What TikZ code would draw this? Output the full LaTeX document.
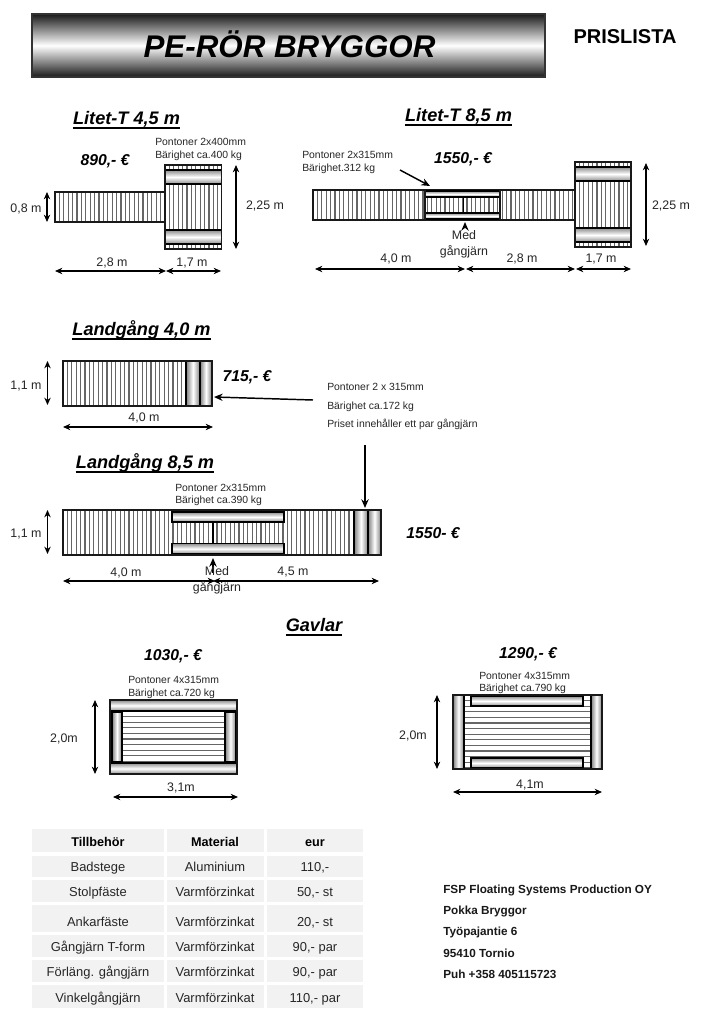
\documentclass[tikz,border=0pt]{standalone}
\usepackage{fontspec}
\setmainfont{Liberation Sans}
\usetikzlibrary{arrows.meta}
\tikzset{
  txt/.style={inner sep=0pt,text depth=0pt},
  small/.style={txt,font=\fontsize{7.8pt}{9pt}\selectfont,text height=5.6pt,anchor=west,text=black!85},
  dimtxt/.style={txt,font=\fontsize{9.3pt}{11pt}\selectfont,text height=6.7pt,text=black!85},
  price/.style={txt,font=\bfseries\itshape\fontsize{11.8pt}{14pt}\selectfont,text height=8.5pt},
  sect/.style={txt,font=\bfseries\itshape\fontsize{13.6pt}{16pt}\selectfont,text height=9.8pt},
  cellt/.style={txt,font=\fontsize{9.7pt}{11pt}\selectfont,text height=7pt,text=black!85},
  headt/.style={txt,font=\bfseries\fontsize{9.5pt}{11pt}\selectfont,text height=6.9pt},
  addr/.style={txt,font=\bfseries\fontsize{8.8pt}{10pt}\selectfont,text height=6.3pt,anchor=west,text=black!90},
  cellbg/.style={fill=black!5},
  slat/.style={line width=.85pt,draw=black!60},
  border/.style={line width=1pt,draw=black!90},
  hpont/.style={line width=1pt,draw=black,top color=black!45,bottom color=black!45,middle color=white},
  vpont/.style={line width=1pt,draw=black,left color=black!50,right color=black!50,middle color=white},
  dim/.style={line width=1.05pt,{Stealth[length=5.5pt,width=4.8pt]}-{Stealth[length=5.5pt,width=4.8pt]}},
  pointer/.style={line width=1.1pt,-{Stealth[length=6.5pt,width=5.5pt]}},
}
\newcommand\vdeck[5]{%
  \pgfmathsetmacro\xa{#1+#5}\pgfmathsetmacro\xb{#1+2*#5}%
  \foreach \xx in {\xa,\xb,...,#3}{\draw[slat] (\xx,#2) -- (\xx,#4);}%
  \draw[border] (#1,#2) rectangle (#3,#4);}
\newcommand\hdeck[5]{%
  \pgfmathsetmacro\ya{#2+#5}\pgfmathsetmacro\yb{#2+2*#5}%
  \foreach \yy in {\ya,\yb,...,#4}{\draw[slat] (#1,\yy) -- (#3,\yy);}}
\newcommand\dimline[3]{%
  \coordinate (#1-a) at (#2);\coordinate (#1-b) at (#3);
  \draw[dim] (#1-a) -- (#1-b);}
\newcommand\pointline[3]{%
  \coordinate (#1-a) at (#2);\coordinate (#1-b) at (#3);
  \draw[pointer] (#1-a) -- (#1-b);}
\newcommand\sectitle[4]{%
  \node[sect] (#1) at (#2,#3) {#4};
  \draw[line width=1.3pt] ([yshift=-2.6pt]#1.south west) -- ([yshift=-2.6pt]#1.south east);}
\newcommand\tsec[4]{%
  \vdeck{#1}{#2}{#3}{#4}{4.4}
  \draw[hpont] (#1,#2+5) rectangle (#3,#2+19);
  \draw[hpont] (#1,#4-19) rectangle (#3,#4-5);
  \draw[border] (#1,#2) rectangle (#3,#4);}
\newcommand\tblrow[7]{%
  \fill[cellbg] (32,#2) rectangle (164,#3);
  \fill[cellbg] (167,#2) rectangle (264,#3);
  \fill[cellbg] (267,#2) rectangle (363,#3);
  \node[#7] (#1a) at (98,#4) {#5};
  \node[#7] (#1b) at (215,#4) {#6};}
\begin{document}
\begin{tikzpicture}[x=.75pt,y=-.75pt]
\useasboundingbox (0,0) rectangle (709,1024);
\fill[white] (0,0) rectangle (709,1024);
% header
\draw[line width=.9pt,draw=black!80,top color=black!90,bottom color=black!90,middle color=white] (32,14) rectangle (545,77);
\node[txt,font=\bfseries\itshape\fontsize{23.5pt}{28pt}\selectfont,text height=16.9pt] (title) at (289.5,46) {PE-RÖR BRYGGOR};
\node[txt,font=\bfseries\fontsize{15pt}{18pt}\selectfont,text height=10.7pt] (prislista) at (625,36) {PRISLISTA};

% Litet-T 4,5
\sectitle{s1}{126.5}{118}{Litet-T 4,5 m}
\node[price] (p1) at (105,160) {890,- €};
\node[small] (t1a) at (155,142) {Pontoner 2x400mm};
\node[small] (t1b) at (155,155) {Bärighet ca.400 kg};
\vdeck{55}{192}{165}{222}{4.4}
\tsec{165}{165}{221.5}{249}
\dimline{d1}{47,192}{47,222}
\node[dimtxt] (l1) at (26,208) {0,8 m};
\dimline{d2}{236,165}{236,249}
\node[dimtxt] (l2) at (265,205) {2,25 m};
\dimline{d3}{55,271}{166,271}
\dimline{d4}{166,271}{221,271}
\node[dimtxt] (l3) at (112,262) {2,8 m};
\node[dimtxt] (l4) at (192,262) {1,7 m};

% Litet-T 8,5
\sectitle{s2}{458.5}{115}{Litet-T 8,5 m}
\node[price] (p2) at (463,158) {1550,- €};
\node[small] (t2a) at (302,155) {Pontoner 2x315mm};
\node[small] (t2b) at (302,168) {Bärighet.312 kg};
\pointline{a1}{400,170}{430,186}
\vdeck{313}{190}{575}{220}{4.4}
\draw[line width=1.4pt] (463.5,197) -- (463.5,213);
\draw[hpont,line width=.8pt] (425,191) rectangle (500,197);
\draw[hpont,line width=.8pt] (425,213) rectangle (500,219);
\draw[border] (425,190) -- (425,220) (500,190) -- (500,220);
\tsec{575}{162}{631}{247}
\dimline{d5}{646,163}{646,246}
\node[dimtxt] (l5) at (671,205) {2,25 m};
\pointline{a2}{465,228}{465,222}
\node[dimtxt] (m1a) at (464,235) {Med};
\node[dimtxt] (m1b) at (464,251) {gångjärn};
\dimline{d6}{315,269}{465,269}
\dimline{d7}{466,269}{575,269}
\dimline{d8}{576,269}{631,269}
\node[dimtxt] (l6) at (396,258) {4,0 m};
\node[dimtxt] (l7) at (522,258) {2,8 m};
\node[dimtxt] (l8) at (601,258) {1,7 m};

% Landgang 4,0
\sectitle{s3}{141.5}{329}{Landgång 4,0 m}
\vdeck{63}{361}{212}{406}{4.4}
\draw[vpont] (186,361) rectangle (200,406);
\draw[vpont] (200,361) rectangle (212,406);
\draw[border] (63,361) rectangle (212,406);
\dimline{d9}{47.5,361}{47.5,405}
\node[dimtxt] (l9) at (26,385) {1,1 m};
\node[dimtxt] (l10) at (144,417) {4,0 m};
\dimline{d10}{63,427}{213,427}
\node[price] (p3) at (247,376) {715,- €};
\node[small] (t3a) at (327,387) {Pontoner 2 x 315mm};
\node[small] (t3b) at (327,406) {Bärighet ca.172 kg};
\node[small] (t3c) at (327,424) {Priset innehåller ett par gångjärn};
\pointline{a3}{313,400}{214,397}
\pointline{a4}{365,445}{365,508}

% Landgang 8,5
\sectitle{s4}{145}{462}{Landgång 8,5 m}
\node[small] (t4a) at (175,488) {Pontoner 2x315mm};
\node[small] (t4b) at (175,500) {Bärighet ca.390 kg};
\vdeck{63}{510}{381}{555}{4.4}
\draw[line width=1pt] (213,522) -- (213,543);
\draw[hpont] (172,512) rectangle (284,522);
\draw[hpont] (172,543.5) rectangle (284,554);
\draw[vpont] (354,510) rectangle (368,555);
\draw[vpont] (368,510) rectangle (381,555);
\draw[border] (63,510) rectangle (381,555);
\dimline{d11}{47.5,510}{47.5,554}
\node[dimtxt] (l11) at (26,533) {1,1 m};
\node[price] (p4) at (433,533) {1550- €};
\pointline{a5}{213,573}{213,558}
\dimline{d12}{63,581}{215,581}
\dimline{d13}{213,581}{379,581}
\node[dimtxt] (l12) at (126,572) {4,0 m};
\node[dimtxt] (l13) at (293,571) {4,5 m};
\node[dimtxt] (m2a) at (217,571) {Med};
\node[dimtxt] (m2b) at (217,587) {gångjärn};

% Gavlar
\sectitle{s5}{314}{625}{Gavlar}
\node[price] (p5) at (173,655) {1030,- €};
\node[small] (t5a) at (128,680) {Pontoner 4x315mm};
\node[small] (t5b) at (128,693) {Bärighet ca.720 kg};
\hdeck{122}{711}{225}{763}{5.6}
\draw[vpont] (112,712) rectangle (122,762);
\draw[vpont] (225,712) rectangle (236,762);
\draw[hpont] (110,700) rectangle (237,711);
\draw[hpont] (110,763) rectangle (237,774);
\draw[border] (110,700) rectangle (237,774);
\dimline{d14}{95,700}{95,774}
\node[dimtxt] (l14) at (64,738) {2,0m};
\dimline{d15}{113,797}{238,797}
\node[dimtxt] (l15) at (181,787) {3,1m};

\node[price] (p6) at (528,653) {1290,- €};
\node[small] (t6a) at (479,676) {Pontoner 4x315mm};
\node[small] (t6b) at (479,688) {Bärighet ca.790 kg};
\hdeck{464}{695}{591}{769}{5.6}
\draw[hpont] (471,696) rectangle (583,706);
\draw[hpont] (471,758) rectangle (583,768);
\draw[vpont] (453,695) rectangle (464,769);
\draw[vpont] (591,695) rectangle (602,769);
\draw[border] (453,695) rectangle (602,769);
\dimline{d16}{437,695}{437,769}
\node[dimtxt] (l16) at (413,735) {2,0m};
\dimline{d17}{453,792}{602,792}
\node[dimtxt] (l17) at (530,784) {4,1m};

% table
\tblrow{r0}{829}{852}{842}{Tillbehör}{Material}{headt}
\node[headt] (r0c) at (315,842) {eur};
\tblrow{r1}{856}{877}{867}{Badstege}{Aluminium}{cellt}
\node[cellt] (r1c) at (315,867) {110,-};
\tblrow{r2}{880}{902}{892}{Stolpfäste}{Varmförzinkat}{cellt}
\node[cellt] (r2c) at (315,892) {50,- st};
\tblrow{r3}{905}{932}{922}{Ankarfäste}{Varmförzinkat}{cellt}
\node[cellt] (r3c) at (315,922) {20,- st};
\tblrow{r4}{935}{957}{947}{Gångjärn T-form}{Varmförzinkat}{cellt}
\node[cellt] (r4c) at (315,947) {90,- par};
\tblrow{r5}{960}{982}{972}{Förläng. gångjärn}{Varmförzinkat}{cellt}
\node[cellt] (r5c) at (315,972) {90,- par};
\tblrow{r6}{985}{1008}{998}{Vinkelgångjärn}{Varmförzinkat}{cellt}
\node[cellt] (r6c) at (315,998) {110,- par};

% address
\node[addr] (ad1) at (443,889) {FSP Floating Systems Production OY};
\node[addr] (ad2) at (443,910) {Pokka Bryggor};
\node[addr] (ad3) at (443,931) {Työpajantie 6};
\node[addr] (ad4) at (443,953) {95410 Tornio};
\node[addr] (ad5) at (443,974) {Puh +358 405115723};
\end{tikzpicture}
\end{document}
